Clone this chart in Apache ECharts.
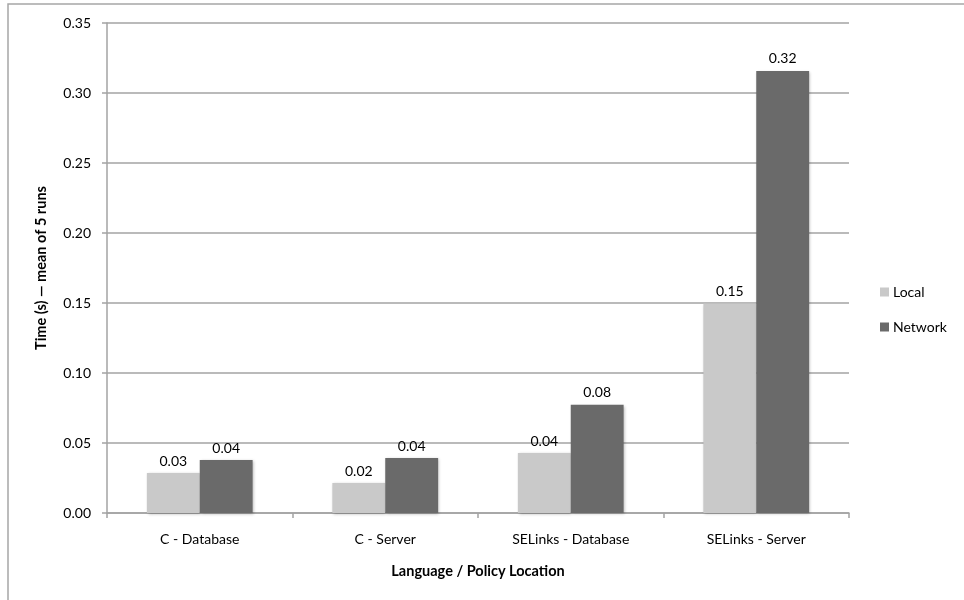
<!DOCTYPE html>
<html>
<head>
<meta charset="utf-8">
<title>Time by language and policy location</title>
<script src="https://cdn.jsdelivr.net/npm/echarts@6/dist/echarts.min.js"></script>
<style>
  html, body { margin: 0; padding: 0; background: #ffffff; }
  #chart { width: 964px; height: 600px; }
</style>
</head>
<body>
<div id="chart"></div>
<script>
// Measured timings (seconds, mean of 5 runs)
const categories = ['C - Database', 'C - Server', 'SELinks - Database', 'SELinks - Server'];
const localTimes = [0.0285, 0.0214, 0.0428, 0.1496];
const networkTimes = [0.0378, 0.0392, 0.0773, 0.3158];
const seriesNames = ['Local', 'Network'];
const yTicks = { min: 0, max: 0.35, step: 0.05 };

const FONT = 'Lato, "Open Sans", sans-serif';
const GRID_COLOR = '#a3a3a3';
const LABEL_SIZE = 14;
const TITLE_SIZE = 14.5;

const chart = echarts.init(document.getElementById('chart'), null, { renderer: 'canvas' });

const barStyle = (color) => ({
  color: color,
  shadowColor: 'rgba(0,0,0,0.28)',
  shadowBlur: 3,
  shadowOffsetX: 1,
  shadowOffsetY: 1
});

const valueLabel = {
  show: true,
  position: 'top',
  distance: 5,
  color: '#000',
  fontFamily: FONT,
  fontSize: LABEL_SIZE,
  formatter: (p) => p.value.toFixed(2)
};

chart.setOption({
  animation: false,
  backgroundColor: '#ffffff',
  textStyle: { fontFamily: FONT },
  graphic: [{
    type: 'rect',
    shape: { x: 8, y: 4, width: 1200, height: 1200 },
    style: { fill: 'none', stroke: '#a6a6a6', lineWidth: 1.5 },
    silent: true,
    z: -1
  }],
  grid: { left: 107, right: 115, top: 23, bottom: 87, containLabel: false },
  legend: {
    orient: 'vertical',
    left: 875,
    top: 280,
    itemWidth: 9,
    itemHeight: 9,
    itemGap: 21,
    icon: 'rect',
    textStyle: { fontFamily: FONT, fontSize: LABEL_SIZE, color: '#000', padding: [0, 0, 0, -1] },
    data: seriesNames
  },
  xAxis: {
    type: 'category',
    data: categories,
    name: 'Language / Policy Location',
    nameLocation: 'middle',
    nameGap: 51,
    nameTextStyle: { fontFamily: FONT, fontSize: TITLE_SIZE, fontWeight: 'bold', color: '#000' },
    axisLine: { lineStyle: { color: GRID_COLOR, width: 1.5 } },
    axisTick: { show: true, length: 5, lineStyle: { color: GRID_COLOR, width: 1.5 } },
    axisLabel: { fontFamily: FONT, fontSize: LABEL_SIZE, color: '#000', margin: 19 }
  },
  yAxis: {
    type: 'value',
    min: yTicks.min,
    max: yTicks.max,
    interval: yTicks.step,
    name: 'Time (s) \u2014 mean of 5 runs',
    nameLocation: 'middle',
    nameGap: 58,
    nameRotate: 90,
    nameTextStyle: { fontFamily: FONT, fontSize: TITLE_SIZE, fontWeight: 'bold', color: '#000' },
    axisLine: { show: true, lineStyle: { color: GRID_COLOR, width: 1.5 } },
    axisTick: { show: true, length: 5, lineStyle: { color: GRID_COLOR, width: 1.5 } },
    axisLabel: { fontFamily: FONT, fontSize: LABEL_SIZE, color: '#000', margin: 16, formatter: (v) => v.toFixed(2) },
    splitLine: { show: true, lineStyle: { color: GRID_COLOR, width: 1.5 } }
  },
  series: [
    {
      name: seriesNames[0],
      type: 'bar',
      data: localTimes,
      barGap: '0%',
      barCategoryGap: '43%',
      itemStyle: barStyle('#c9c9c9'),
      label: valueLabel
    },
    {
      name: seriesNames[1],
      type: 'bar',
      data: networkTimes,
      barGap: '0%',
      barCategoryGap: '43%',
      itemStyle: barStyle('#6a6a6a'),
      label: valueLabel
    }
  ]
});
</script>
</body>
</html>
